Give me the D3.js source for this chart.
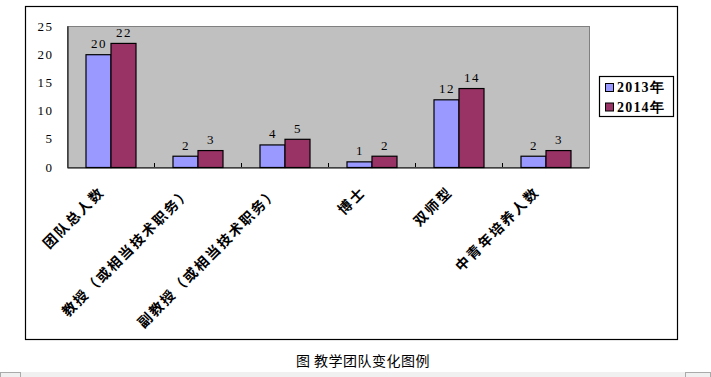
<!DOCTYPE html>
<html><head><meta charset="utf-8">
<script src="https://cdn.jsdelivr.net/npm/d3@7"></script>
<style>html,body{margin:0;padding:0;background:#fff;}svg{display:block;}</style>
</head><body>
<svg id="c" width="711" height="377"></svg>
<script>
const categories = ["团队总人数","教授（或相当技术职务）","副教授（或相当技术职务）","博士","双师型","中青年培养人数"];
const years = ["2013年","2014年"];
const values2013 = [20,2,4,1,12,2];
const values2014 = [22,3,5,2,14,3];
const yTicks = [0,5,10,15,20,25];
const colors = ["#9999FF","#993366"];
const caption = "图 教学团队变化图例";

const svg = d3.select("#c");
const series = [values2013, values2014];

// outer chart border
svg.append("rect").attr("x",25.5).attr("y",6.5).attr("width",652).attr("height",333)
  .attr("fill","#fff").attr("stroke","#000").attr("stroke-width",1.2);

const x = d3.scaleBand().domain(categories).range([67,589]).paddingInner(0).paddingOuter(0);
const y = d3.scaleLinear().domain([0,25]).range([167,26]);
const xs = d3.scaleBand().domain(years).range([18.5, x.bandwidth()-18.5]);

// plot area
svg.append("rect").attr("x",67.5).attr("y",y(25)+0.5).attr("width",589-67).attr("height",y(0)-y(25))
  .attr("fill","#C0C0C0").attr("stroke","#808080").attr("stroke-width",1);

// y axis
const yAxis = d3.axisLeft(y).tickValues(yTicks).tickSize(0).tickPadding(12);
const gy = svg.append("g").attr("transform","translate(67.5,0)").call(yAxis);
gy.select(".domain").attr("stroke","#000");
gy.selectAll("text").attr("font-family","'Liberation Serif',serif").attr("font-size",13)
  .attr("letter-spacing","1.5px").attr("fill","#000").attr("dx","-2");

// bars
years.forEach((yr,si)=>{
  const g = svg.append("g");
  g.selectAll("rect").data(series[si]).join("rect")
    .attr("x",(d,i)=>x(categories[i])+xs(yr)+0.5)
    .attr("y",d=>y(d)+0.5)
    .attr("width",xs.bandwidth())
    .attr("height",d=>y(0)-y(d))
    .attr("fill",colors[si]).attr("stroke","#000").attr("stroke-width",1.2);
  g.selectAll("text").data(series[si]).join("text")
    .attr("x",(d,i)=>x(categories[i])+xs(yr)+xs.bandwidth()/2+1)
    .attr("y",d=>y(d)-6)
    .attr("text-anchor","middle")
    .attr("font-family","'Liberation Serif',serif").attr("font-size",13)
    .attr("letter-spacing","1.5px")
    .attr("fill","#000").text(d=>d);
});

// x axis
const xAxis = d3.axisBottom(x).tickSize(0).tickFormat("");
const gx = svg.append("g").attr("transform",`translate(0,${y(0)+0.5})`).call(xAxis);
gx.select(".domain").attr("stroke","#000").attr("stroke-width",1.2);
gx.selectAll(".tick").remove();
// inner ticks at category boundaries
svg.append("g").selectAll("line").data(categories.slice(1)).join("line")
  .attr("x1",d=>x(d)+0.5).attr("x2",d=>x(d)+0.5)
  .attr("y1",y(0)).attr("y2",y(0)-4)
  .attr("stroke","#000").attr("stroke-width",1);

// x labels rotated
svg.append("g").selectAll("text").data(categories).join("text")
  .attr("transform",d=>`translate(${x(d)+x.bandwidth()/2-5},${193}) rotate(-45)`)
  .attr("text-anchor","end")
  .attr("font-family","'Noto Sans CJK SC',sans-serif").attr("font-weight","bold")
  .attr("font-size",14).attr("letter-spacing","2px")
  .attr("fill","#000").text(d=>d);

// legend
const lg = svg.append("g");
lg.append("rect").attr("x",599.5).attr("y",76.5).attr("width",74).attr("height",40)
  .attr("fill","#fff").attr("stroke","#000").attr("stroke-width",1.2);
years.forEach((yr,i)=>{
  const cy = 87 + i*19.5;
  lg.append("rect").attr("x",605.5).attr("y",cy-3.5).attr("width",8).attr("height",8)
    .attr("fill",colors[i]).attr("stroke","#000").attr("stroke-width",1);
  lg.append("text").attr("x",617).attr("y",cy+5)
    .attr("font-family","'Liberation Serif',serif").attr("font-weight","bold")
    .attr("font-size",14).attr("letter-spacing","1.2px").attr("fill","#000").text(yr);
});

// caption
svg.append("text").attr("x",363).attr("y",366).attr("text-anchor","middle")
  .attr("font-family","'Noto Sans CJK SC',sans-serif").attr("font-size",14)
  .attr("letter-spacing","0.5px").attr("fill","#000").text(caption);

// bottom strip
svg.append("rect").attr("x",0).attr("y",372).attr("width",711).attr("height",5).attr("fill","#f0f0f0");
svg.append("rect").attr("x",0.5).attr("y",372.5).attr("width",20).attr("height",5).attr("fill","none").attr("stroke","#aaa");
svg.append("rect").attr("x",685.5).attr("y",372.5).attr("width",25).attr("height",5).attr("fill","none").attr("stroke","#aaa");
</script>
</body></html>
